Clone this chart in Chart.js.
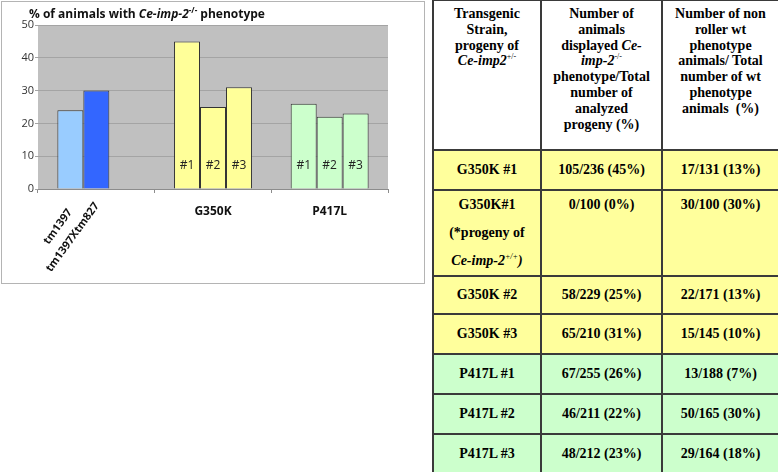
<!DOCTYPE html>
<html>
<head>
<meta charset="utf-8">
<script src="https://cdn.jsdelivr.net/npm/chart.js@4.4.0/dist/chart.umd.min.js"></script>
<style>
    html, body { margin: 0; padding: 0; background: #fff; }
    body { width: 778px; height: 472px; position: relative; overflow: hidden; }
    #chart-box {
        position: absolute; left: 1px; top: 1px; width: 424px; height: 283px;
        box-sizing: border-box; border: 1px solid #b4b4b4; background: #fff;
    }
    #chart-box canvas { display: block; }
    #chart-title {
        position: absolute; left: 29px; top: 5px;
        font: 700 12px "Open Sans", sans-serif; color: #111; white-space: nowrap;
    }
    #chart-title sup { font-size: 8px; line-height: 0; vertical-align: 5px; }
    #strain-table {
        position: absolute; left: 432px; top: -1px; width: 346px;
        border-collapse: collapse; table-layout: fixed; color: #000;
        font-family: "Liberation Serif", "Times New Roman", serif;
        font-size: 14px; font-weight: 700;
    }
    #strain-table td, #strain-table th {
        border: 2px solid #3a3a3a; text-align: center; padding: 0;
        font-family: inherit;
    }
    #strain-table th { vertical-align: top; padding-top: 5px; line-height: 15.8px; height: 143px; font-weight: 700; background: #fff; }
    #strain-table td { vertical-align: middle; height: 38px; line-height: 18px; }
    #strain-rows tr:nth-child(3) td { height: 36px; }
    #strain-table tr.tall td { vertical-align: top; line-height: 28px; height: 83px; }
    #strain-table tr.g350 td { background: #ffff9c; }
    #strain-table tr.p417 td { background: #ccffcc; }
    #strain-table sup { font-size: 8px; font-weight: 400; line-height: 0; vertical-align: 6px; }
</style>
</head>
<body>
<div id="chart-box">
    <canvas id="pheno-chart" width="422" height="281"></canvas>
</div>
<div id="chart-title">% of animals with <i>Ce-imp-2</i><sup>-/-</sup> phenotype</div>
<table id="strain-table">
    <colgroup><col style="width:108px"><col style="width:121px"><col style="width:117px"></colgroup>
    <thead>
        <tr>
            <th>Transgenic<br>Strain,<br>progeny of<br><i>Ce-imp2</i><sup>+/-</sup></th>
            <th>Number of<br>animals<br>displayed <i>Ce-</i><br><i>imp-2</i><sup>-/-</sup><br>phenotype/Total<br>number of<br>analyzed<br>progeny (%)</th>
            <th>Number of non<br>roller wt<br>phenotype<br>animals/ Total<br>number of wt<br>phenotype<br>animals&nbsp; (%)</th>
        </tr>
    </thead>
    <tbody id="strain-rows"></tbody>
</table>
<script>
// chart values
const categories = ['', 'G350K', 'P417L'];
const tmLabels = ['tm1397', 'tm1397Xtm827'];
const series1 = [24, 45, 26];
const series2 = [30, 25, 22];
const series3 = [null, 31, 23];
const barTags = ['#1', '#2', '#3'];
const yTicks = [0, 10, 20, 30, 40, 50];

// table contents
const strains = ['G350K #1', 'G350K#1', 'G350K #2', 'G350K #3', 'P417L #1', 'P417L #2', 'P417L #3'];
const strainNotes = ['', '(*progeny of<br><i>Ce-imp-2<sup>+/+</sup>)</i>', '', '', '', '', ''];
const affected = ['105/236 (45%)', '0/100 (0%)', '58/229 (25%)', '65/210 (31%)', '67/255 (26%)', '46/211 (22%)', '48/212 (23%)'];
const nonRoller = ['17/131 (13%)', '30/100 (30%)', '22/171 (13%)', '15/145 (10%)', '13/188 (7%)', '50/165 (30%)', '29/164 (18%)'];

const groupColors = ['#99ccff', '#ffff99', '#ccffcc'];
const darkBlue = '#3366ff';

// --- table ---
const tbody = document.getElementById('strain-rows');
strains.forEach((name, i) => {
    const tr = document.createElement('tr');
    tr.className = name.startsWith('G350K') ? 'g350' : 'p417';
    if (strainNotes[i]) tr.classList.add('tall');
    const first = strainNotes[i] ? `${name}<br>${strainNotes[i]}` : name;
    tr.innerHTML = `<td>${first}</td><td>${affected[i]}</td><td>${nonRoller[i]}</td>`;
    tbody.appendChild(tr);
});

// --- chart ---
const plotBg = {
    id: 'plotBg',
    beforeDraw(chart) {
        const { ctx, chartArea: a } = chart;
        ctx.save();
        ctx.fillStyle = '#c0c0c0';
        ctx.fillRect(a.left, a.top, a.right - a.left, a.bottom - a.top);
        ctx.restore();
    }
};

const barText = {
    id: 'barText',
    afterDatasetsDraw(chart) {
        const ctx = chart.ctx;
        ctx.save();
        ctx.fillStyle = '#222';
        ctx.font = '12px "Open Sans", sans-serif';
        ctx.textAlign = 'center';
        ctx.textBaseline = 'middle';
        chart.data.datasets.forEach((ds, d) => {
            chart.getDatasetMeta(d).data.forEach((bar, i) => {
                if (i === 0 || ds.data[i] == null) return;
                ctx.fillText(barTags[d], bar.x, bar.base - 23);
            });
        });
        ctx.restore();

        // rotated two-line label under the first group
        const xScale = chart.scales.x;
        const cx = xScale.getPixelForValue(0) - 31;
        const cy = xScale.top + 43;
        ctx.save();
        ctx.setTransform(1, 0, 0, 1, 0, 0);
        ctx.translate(cx, cy);
        ctx.rotate(-54 * Math.PI / 180);
        ctx.textAlign = 'center';
        ctx.textBaseline = 'middle';
        ctx.fillStyle = '#111';
        ctx.font = '700 11px "Open Sans", sans-serif';
        tmLabels.forEach((t, k) => ctx.fillText(t, 0, (k - 0.5) * 18));
        ctx.restore();
    }
};

const colorsFor = (first) => categories.map((c, i) => (i === 0 ? first : groupColors[i]));

new Chart(document.getElementById('pheno-chart'), {
    type: 'bar',
    data: {
        labels: categories,
        datasets: [
            { data: series1, backgroundColor: colorsFor(groupColors[0]) },
            { data: series2, backgroundColor: colorsFor(darkBlue) },
            { data: series3, backgroundColor: colorsFor(darkBlue) }
        ].map(ds => Object.assign(ds, {
            borderColor: '#333',
            borderWidth: 1,
            categoryPercentage: 0.668,
            barPercentage: 1
        }))
    },
    options: {
        responsive: false,
        devicePixelRatio: 1,
        animation: false,
        layout: { padding: { left: 0, top: 23, right: 36, bottom: 0 } },
        plugins: {
            legend: { display: false },
            tooltip: { enabled: false }
        },
        scales: {
            x: {
                afterFit: (scale) => { scale.height = 94; },
                grid: { display: true, drawOnChartArea: false, offset: true, tickLength: 4, color: '#8c8c8c' },
                border: { color: '#8c8c8c' },
                ticks: {
                    color: '#111',
                    padding: 11,
                    font: { family: '"Open Sans", sans-serif', size: 12, weight: 700 },
                    maxRotation: 0
                }
            },
            y: {
                min: 0,
                max: 50,
                afterFit: (scale) => { scale.width = 36; },
                afterBuildTicks: (scale) => { scale.ticks = yTicks.map(v => ({ value: v })); },
                grid: { color: '#a4a4a4', tickLength: 3 },
                border: { display: false },
                ticks: {
                    color: '#333',
                    padding: 1,
                    font: { family: '"Open Sans", sans-serif', size: 11 }
                }
            }
        }
    },
    plugins: [plotBg, barText]
});
</script>
</body>
</html>
